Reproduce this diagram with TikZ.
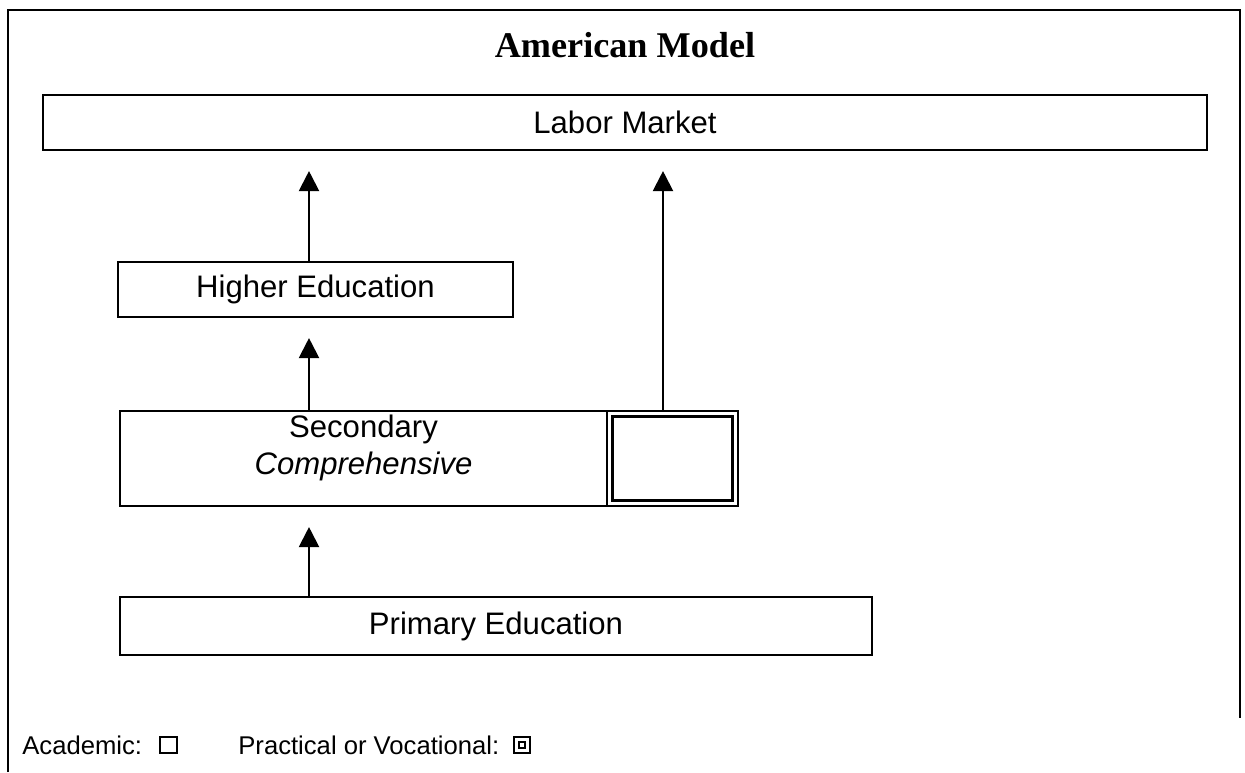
\documentclass[tikz,border=0pt]{standalone}
\usepackage{fontspec}
\setmainfont{Liberation Sans}
\newfontfamily\headfont{Liberation Serif}
\usetikzlibrary{arrows.meta}

\begin{document}
\begin{tikzpicture}[x=0.02cm,y=-0.02cm,>={Triangle[width=0.4cm,length=0.4cm]},
  box/.style={draw,line width=1.2pt,inner sep=0pt,font=\fontsize{17.7}{21}\selectfont},
  up/.style={->,line width=1.2pt,shorten >=0.4cm},
  key/.style={font=\fontsize{14.6}{17}\selectfont,anchor=west,inner sep=0pt}]
 \useasboundingbox (0,0) rectangle (1245,772);
 \draw[line width=1.2pt] (8,772) -- (8,10) -- (1240,10) -- (1240,718);
 \node[font=\headfont\bfseries\fontsize{20.6}{24}\selectfont] (title) at (625,45) {American Model};

 \node[box,minimum width=23.28cm,minimum height=1.1cm] (labor) at (625,122.5) {Labor Market};
 \node[box,minimum width=7.9cm,minimum height=1.1cm] (higher) at (315.5,289.5) {Higher Education};
 \node[box,minimum width=9.74cm,minimum height=1.9cm] (sec) at (363.5,458.5) {};
 \node[align=center,font=\fontsize{17.7}{21}\selectfont] (sectext) at (363.5,448)
      {Secondary\\\textit{Comprehensive}};
 \node[box,minimum width=2.62cm,minimum height=1.9cm] (voc) at (672.5,458.5) {};
 \node[box,line width=1.8pt,minimum width=2.4cm,minimum height=1.68cm] (vocin) at (voc) {};
 \node[box,minimum width=15.04cm,minimum height=1.16cm] (primary) at (496,626) {Primary Education};

 \coordinate (lane) at (309,0);
 \coordinate (vlane) at (663,0);
 \draw[up] (primary.north -| lane) -- (sec.south -| lane);
 \draw[up] (sec.north -| lane) -- (higher.south -| lane);
 \draw[up] (higher.north -| lane) -- (labor.south -| lane);
 \draw[up] (voc.north -| vlane) -- (labor.south -| vlane);

 \node[key] (acad) at (22,745) {Academic:};
 \node[draw,line width=1.1pt,minimum size=0.33cm,inner sep=0pt] (acadkey) at (168.5,745) {};
 \node[key] (prac) at (238,745) {Practical or Vocational:};
 \node[draw,line width=1.5pt,minimum size=0.32cm,inner sep=0pt] (prackey) at (522,745) {};
 \node[draw,line width=1.1pt,minimum size=0.13cm,inner sep=0pt] (prackeyin) at (prackey) {};
\end{tikzpicture}
\end{document}
